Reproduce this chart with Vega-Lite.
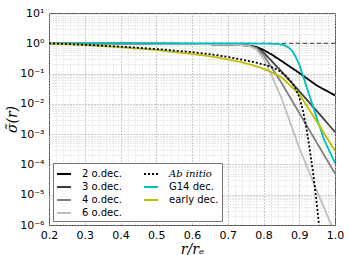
{
  "$schema": "https://vega.github.io/schema/vega-lite/v6.json",
  "width": 286,
  "height": 212,
  "autosize": {"type": "none"},
  "padding": {"left": 49, "top": 13, "right": 14, "bottom": 30},
  "background": "white",
  "config": {
    "view": {"stroke": "#444", "strokeWidth": 1},
    "font": "DejaVu Sans",
    "legend": {
      "orient": "none",
      "legendX": 4,
      "legendY": 150,
      "columns": 2,
      "symbolType": "stroke",
      "symbolSize": 196,
      "symbolStrokeWidth": 2,
      "labelFontSize": 10,
      "labelFont": "DejaVu Sans",
      "labelColor": "#000",
      "labelOffset": 10,
      "rowPadding": 0,
      "columnPadding": 18,
      "padding": 3,
      "strokeColor": "#777",
      "fillColor": "white",
      "labelLimit": 200
    }
  },
  "layer": [
    {
      "data": {"values": [{"ref": 1}]},
      "mark": {"type": "rule", "color": "#333", "strokeDash": [4, 3], "strokeWidth": 1},
      "encoding": {"y": {"field": "ref", "type": "quantitative"}}
    },
    {
      "data": {"values": [
        {"series": "2 o.dec.", "r": 0.2, "sigma": 1},
        {"series": "2 o.dec.", "r": 0.5, "sigma": 0.977},
        {"series": "2 o.dec.", "r": 0.6, "sigma": 0.955},
        {"series": "2 o.dec.", "r": 0.7, "sigma": 0.912},
        {"series": "2 o.dec.", "r": 0.74, "sigma": 0.871},
        {"series": "2 o.dec.", "r": 0.76, "sigma": 0.832},
        {"series": "2 o.dec.", "r": 0.78, "sigma": 0.759},
        {"series": "2 o.dec.", "r": 0.8, "sigma": 0.603},
        {"series": "2 o.dec.", "r": 0.82, "sigma": 0.447},
        {"series": "2 o.dec.", "r": 0.85, "sigma": 0.263},
        {"series": "2 o.dec.", "r": 0.9, "sigma": 0.1047},
        {"series": "2 o.dec.", "r": 0.95, "sigma": 0.0398},
        {"series": "2 o.dec.", "r": 1.0, "sigma": 0.01905},
        {"series": "3 o.dec.", "r": 0.2, "sigma": 1},
        {"series": "3 o.dec.", "r": 0.6, "sigma": 0.955},
        {"series": "3 o.dec.", "r": 0.7, "sigma": 0.912},
        {"series": "3 o.dec.", "r": 0.74, "sigma": 0.871},
        {"series": "3 o.dec.", "r": 0.76, "sigma": 0.832},
        {"series": "3 o.dec.", "r": 0.78, "sigma": 0.724},
        {"series": "3 o.dec.", "r": 0.8, "sigma": 0.501},
        {"series": "3 o.dec.", "r": 0.82, "sigma": 0.282},
        {"series": "3 o.dec.", "r": 0.85, "sigma": 0.1175},
        {"series": "3 o.dec.", "r": 0.9, "sigma": 0.0263},
        {"series": "3 o.dec.", "r": 0.95, "sigma": 0.005623},
        {"series": "3 o.dec.", "r": 1.0, "sigma": 0.001175},
        {"series": "4 o.dec.", "r": 0.2, "sigma": 1},
        {"series": "4 o.dec.", "r": 0.6, "sigma": 0.955},
        {"series": "4 o.dec.", "r": 0.7, "sigma": 0.912},
        {"series": "4 o.dec.", "r": 0.74, "sigma": 0.871},
        {"series": "4 o.dec.", "r": 0.76, "sigma": 0.832},
        {"series": "4 o.dec.", "r": 0.78, "sigma": 0.692},
        {"series": "4 o.dec.", "r": 0.8, "sigma": 0.417},
        {"series": "4 o.dec.", "r": 0.82, "sigma": 0.1778},
        {"series": "4 o.dec.", "r": 0.85, "sigma": 0.0501},
        {"series": "4 o.dec.", "r": 0.9, "sigma": 0.00501},
        {"series": "4 o.dec.", "r": 0.95, "sigma": 0.000501},
        {"series": "4 o.dec.", "r": 1.0, "sigma": 0.0000501},
        {"series": "6 o.dec.", "r": 0.2, "sigma": 1},
        {"series": "6 o.dec.", "r": 0.6, "sigma": 0.955},
        {"series": "6 o.dec.", "r": 0.7, "sigma": 0.912},
        {"series": "6 o.dec.", "r": 0.74, "sigma": 0.871},
        {"series": "6 o.dec.", "r": 0.76, "sigma": 0.813},
        {"series": "6 o.dec.", "r": 0.78, "sigma": 0.631},
        {"series": "6 o.dec.", "r": 0.8, "sigma": 0.316},
        {"series": "6 o.dec.", "r": 0.82, "sigma": 0.1},
        {"series": "6 o.dec.", "r": 0.85, "sigma": 0.01585},
        {"series": "6 o.dec.", "r": 0.9, "sigma": 0.000355},
        {"series": "6 o.dec.", "r": 0.95, "sigma": 0.0000126},
        {"series": "6 o.dec.", "r": 0.99, "sigma": 0.000001},
        {"series": "6 o.dec.", "r": 1.0, "sigma": 0.0000005},
        {"series": "G14 dec.", "r": 0.2, "sigma": 1},
        {"series": "G14 dec.", "r": 0.5, "sigma": 1},
        {"series": "G14 dec.", "r": 0.7, "sigma": 1},
        {"series": "G14 dec.", "r": 0.8, "sigma": 0.977},
        {"series": "G14 dec.", "r": 0.84, "sigma": 0.955},
        {"series": "G14 dec.", "r": 0.86, "sigma": 0.851},
        {"series": "G14 dec.", "r": 0.87, "sigma": 0.724},
        {"series": "G14 dec.", "r": 0.88, "sigma": 0.562},
        {"series": "G14 dec.", "r": 0.89, "sigma": 0.355},
        {"series": "G14 dec.", "r": 0.9, "sigma": 0.1995},
        {"series": "G14 dec.", "r": 0.91, "sigma": 0.0891},
        {"series": "G14 dec.", "r": 0.92, "sigma": 0.038},
        {"series": "G14 dec.", "r": 0.93, "sigma": 0.0166},
        {"series": "G14 dec.", "r": 0.95, "sigma": 0.00316},
        {"series": "G14 dec.", "r": 0.97, "sigma": 0.000631},
        {"series": "G14 dec.", "r": 1.0, "sigma": 0.0001122},
        {"series": "early dec.", "r": 0.2, "sigma": 1},
        {"series": "early dec.", "r": 0.3, "sigma": 0.871},
        {"series": "early dec.", "r": 0.4, "sigma": 0.741},
        {"series": "early dec.", "r": 0.5, "sigma": 0.603},
        {"series": "early dec.", "r": 0.55, "sigma": 0.513},
        {"series": "early dec.", "r": 0.6, "sigma": 0.447},
        {"series": "early dec.", "r": 0.65, "sigma": 0.372},
        {"series": "early dec.", "r": 0.7, "sigma": 0.295},
        {"series": "early dec.", "r": 0.74, "sigma": 0.234},
        {"series": "early dec.", "r": 0.78, "sigma": 0.1738},
        {"series": "early dec.", "r": 0.8, "sigma": 0.1445},
        {"series": "early dec.", "r": 0.82, "sigma": 0.1148},
        {"series": "early dec.", "r": 0.85, "sigma": 0.0759},
        {"series": "early dec.", "r": 0.875, "sigma": 0.0398},
        {"series": "early dec.", "r": 0.9, "sigma": 0.0209},
        {"series": "early dec.", "r": 0.95, "sigma": 0.00251},
        {"series": "early dec.", "r": 1.0, "sigma": 0.000282},
        {"series": "Ab initio", "r": 0.2, "sigma": 1},
        {"series": "Ab initio", "r": 0.3, "sigma": 0.891},
        {"series": "Ab initio", "r": 0.4, "sigma": 0.776},
        {"series": "Ab initio", "r": 0.5, "sigma": 0.646},
        {"series": "Ab initio", "r": 0.6, "sigma": 0.513},
        {"series": "Ab initio", "r": 0.65, "sigma": 0.437},
        {"series": "Ab initio", "r": 0.7, "sigma": 0.355},
        {"series": "Ab initio", "r": 0.74, "sigma": 0.288},
        {"series": "Ab initio", "r": 0.78, "sigma": 0.229},
        {"series": "Ab initio", "r": 0.8, "sigma": 0.1995},
        {"series": "Ab initio", "r": 0.82, "sigma": 0.17},
        {"series": "Ab initio", "r": 0.84, "sigma": 0.1318},
        {"series": "Ab initio", "r": 0.86, "sigma": 0.0891},
        {"series": "Ab initio", "r": 0.88, "sigma": 0.0501},
        {"series": "Ab initio", "r": 0.89, "sigma": 0.0316},
        {"series": "Ab initio", "r": 0.9, "sigma": 0.0166},
        {"series": "Ab initio", "r": 0.91, "sigma": 0.00631},
        {"series": "Ab initio", "r": 0.92, "sigma": 0.001585},
        {"series": "Ab initio", "r": 0.93, "sigma": 0.000282},
        {"series": "Ab initio", "r": 0.94, "sigma": 0.0000398},
        {"series": "Ab initio", "r": 0.95, "sigma": 0.00000398},
        {"series": "Ab initio", "r": 0.958, "sigma": 0.0000005}
      ]},
      "mark": {"type": "line", "strokeWidth": 1.8, "clip": true},
      "encoding": {
        "x": {
          "field": "r",
          "type": "quantitative",
          "scale": {"domain": [0.2, 1.0], "nice": false, "zero": false},
          "axis": {
            "values": [0.2, 0.22, 0.24, 0.26, 0.28, 0.3, 0.32, 0.34, 0.36, 0.38, 0.4, 0.42, 0.44, 0.46, 0.48, 0.5, 0.52, 0.54, 0.56, 0.58, 0.6, 0.62, 0.64, 0.66, 0.68, 0.7, 0.72, 0.74, 0.76, 0.78, 0.8, 0.82, 0.84, 0.86, 0.88, 0.9, 0.92, 0.94, 0.96, 0.98, 1.0],
            "labelExpr": "abs(datum.value*10-round(datum.value*10))<1e-6 ? format(datum.value,'.1f') : ''",
            "grid": true,
            "gridColor": {"condition": {"test": "abs(datum.value*10-round(datum.value*10))<1e-6", "value": "#999999"}, "value": "#d4d4d4"},
            "gridDash": [1, 2],
            "ticks": false,
            "domain": false,
            "labelFontSize": 11,
            "labelPadding": 4,
            "labelOverlap": false,
            "labelFlush": false,
            "labelColor": "#000",
            "title": "r/rₑ",
            "titleFont": "DejaVu Serif",
            "titleFontStyle": "italic",
            "titleFontWeight": "normal",
            "titleFontSize": 14,
            "titleColor": "#000",
            "titlePadding": 2
          }
        },
        "y": {
          "field": "sigma",
          "type": "quantitative",
          "scale": {"type": "log", "domain": [0.000001, 10], "nice": false},
          "axis": {
            "values": [0.000001, 0.000002, 0.000003, 0.000004, 0.000005, 0.000006, 0.000007, 0.000008, 0.000009,
                       0.00001, 0.00002, 0.00003, 0.00004, 0.00005, 0.00006, 0.00007, 0.00008, 0.00009,
                       0.0001, 0.0002, 0.0003, 0.0004, 0.0005, 0.0006, 0.0007, 0.0008, 0.0009,
                       0.001, 0.002, 0.003, 0.004, 0.005, 0.006, 0.007, 0.008, 0.009,
                       0.01, 0.02, 0.03, 0.04, 0.05, 0.06, 0.07, 0.08, 0.09,
                       0.1, 0.2, 0.3, 0.4, 0.5, 0.6, 0.7, 0.8, 0.9,
                       1, 2, 3, 4, 5, 6, 7, 8, 9, 10],
            "labelExpr": "abs(log(datum.value)/LN10-round(log(datum.value)/LN10))>1e-6 ? '' : '10' + ['⁻⁶','⁻⁵','⁻⁴','⁻³','⁻²','⁻¹','⁰','¹'][round(log(datum.value)/LN10)+6]",
            "grid": true,
            "gridColor": {"condition": {"test": "abs(log(datum.value)/LN10-round(log(datum.value)/LN10))<1e-6", "value": "#999999"}, "value": "#d4d4d4"},
            "gridDash": [1, 2],
            "ticks": false,
            "domain": false,
            "labelFontSize": 11,
            "labelPadding": 5,
            "labelOverlap": false,
            "labelFlush": false,
            "labelColor": "#000",
            "title": "σ̃(r)",
            "titleFont": "DejaVu Serif",
            "titleFontStyle": "italic",
            "titleFontWeight": "normal",
            "titleFontSize": 14,
            "titleColor": "#000",
            "titlePadding": 0
          }
        },
        "color": {
          "field": "series",
          "type": "nominal",
          "scale": {
            "domain": ["2 o.dec.", "3 o.dec.", "4 o.dec.", "6 o.dec.", "Ab initio", "G14 dec.", "early dec."],
            "range": ["#000000", "#404040", "#808080", "#bfbfbf", "#000000", "#00bfbf", "#bfbf00"]
          },
          "legend": {
            "title": null,
            "encode": {"labels": {"update": {
              "fontStyle": {"signal": "datum.label == 'Ab initio' ? 'italic' : 'normal'"},
              "font": {"signal": "datum.label == 'Ab initio' ? 'DejaVu Serif' : 'DejaVu Sans'"}
            }}}
          }
        },
        "strokeDash": {
          "field": "series",
          "type": "nominal",
          "scale": {
            "domain": ["2 o.dec.", "3 o.dec.", "4 o.dec.", "6 o.dec.", "Ab initio", "G14 dec.", "early dec."],
            "range": [[1, 0], [1, 0], [1, 0], [1, 0], [2, 2], [1, 0], [1, 0]]
          },
          "legend": {
            "title": null,
            "encode": {"labels": {"update": {
              "fontStyle": {"signal": "datum.label == 'Ab initio' ? 'italic' : 'normal'"},
              "font": {"signal": "datum.label == 'Ab initio' ? 'DejaVu Serif' : 'DejaVu Sans'"}
            }}}
          }
        }
      }
    }
  ]
}
